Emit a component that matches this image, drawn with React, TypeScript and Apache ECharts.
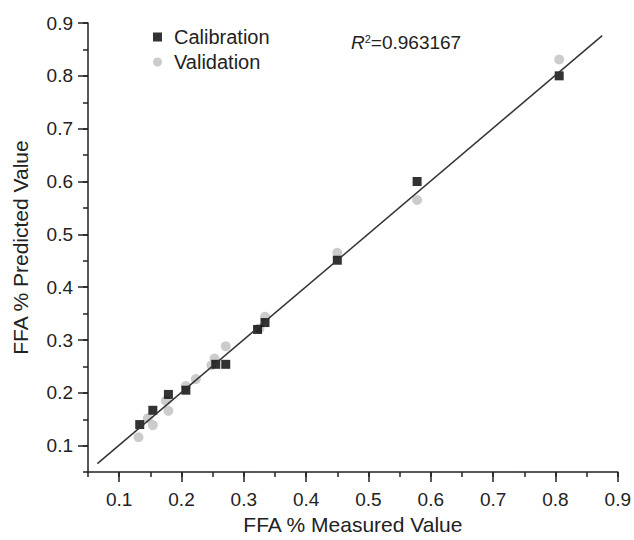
import React, { useEffect, useRef } from "react";
import * as echarts from "echarts";

const FONT = "'Liberation Sans', Arial, sans-serif";

const calibration: [number, number][] = [
  [0.133, 0.14], [0.154, 0.167], [0.179, 0.197], [0.207, 0.205], [0.255, 0.254],
  [0.271, 0.254], [0.322, 0.32], [0.334, 0.333], [0.45, 0.451], [0.578, 0.6], [0.806, 0.8],
];

const validation: [number, number][] = [
  [0.131, 0.116], [0.146, 0.152], [0.154, 0.139], [0.175, 0.185], [0.179, 0.166],
  [0.207, 0.213], [0.223, 0.226], [0.248, 0.252], [0.253, 0.265], [0.271, 0.288],
  [0.325, 0.322], [0.334, 0.344], [0.45, 0.465], [0.578, 0.565], [0.806, 0.831],
];

const fitLine: [number, number][] = [
  [0.065, 0.066],
  [0.875, 0.876],
];

const majorTicks = [0.1, 0.2, 0.3, 0.4, 0.5, 0.6, 0.7, 0.8, 0.9];
const r2Text = "0.963167";

export default function App() {
  const ref = useRef<HTMLDivElement>(null);
  useEffect(() => {
    if (!ref.current) return;
    const chart = echarts.init(ref.current, null, { renderer: "svg" });
    const axisColor = "#222";
    const majorAxis = (name: string, isX: boolean, gap: number) => ({
      type: "value",
      min: 0.05,
      max: 0.9,
      position: isX ? "bottom" : "left",
      name,
      nameLocation: "middle",
      nameGap: gap,
      nameTextStyle: { fontSize: 21, color: axisColor, fontFamily: FONT },
      axisLine: { show: true, onZero: false, lineStyle: { color: axisColor, width: 1.5 } },
      axisTick: {
        show: true,
        customValues: majorTicks,
        length: 10,
        lineStyle: { color: axisColor, width: 1.5 },
      },
      axisLabel: {
        show: true,
        customValues: majorTicks,
        formatter: (v: number) => v.toFixed(1),
        fontSize: 19,
        color: axisColor,
        fontFamily: FONT,
        margin: isX ? 18 : 15,
      },
      splitLine: { show: false },
    });
    const minorAxis = (isX: boolean) => ({
      type: "value",
      min: 0.05,
      max: 0.9,
      interval: 0.05,
      position: isX ? "bottom" : "left",
      offset: 0,
      axisLine: { show: false, onZero: false },
      axisTick: { show: true, length: 5, lineStyle: { color: axisColor, width: 1.5 } },
      axisLabel: { show: false },
      splitLine: { show: false },
    });
    chart.setOption({
      animation: false,
      backgroundColor: "#fff",
      grid: { left: 88, right: 14, top: 23, bottom: 66 },
      xAxis: [majorAxis("FFA % Measured Value", true, 34), minorAxis(true)],
      yAxis: [majorAxis("FFA % Predicted Value", false, 57), minorAxis(false)],
      legend: {
        data: ["Calibration", "Validation"],
        orient: "vertical",
        left: 148,
        top: 22,
        itemWidth: 9,
        itemHeight: 9,
        itemGap: 5,
        textStyle: { fontSize: 20, color: axisColor, fontFamily: FONT, lineHeight: 20, padding: [0, 0, 0, 7] },
      },
      graphic: [
        {
          type: "text",
          left: 351,
          top: 33,
          style: {
            text: "{i|R}{s|2}{n|=" + r2Text + "}",
            rich: {
              i: { fontStyle: "italic", fontSize: 19, fill: axisColor, fontFamily: FONT, verticalAlign: "bottom" },
              s: { fontSize: 11, fill: axisColor, fontFamily: FONT, verticalAlign: "top" },
              n: { fontSize: 19, fill: axisColor, fontFamily: FONT, verticalAlign: "bottom" },
            },
          },
        },
      ],
      series: [
        {
          name: "Validation",
          type: "scatter",
          symbol: "circle",
          symbolSize: 10,
          itemStyle: { color: "#bfbfbf" },
          data: validation,
          z: 2,
        },
        {
          name: "Calibration",
          type: "scatter",
          symbol: "rect",
          symbolSize: 9,
          itemStyle: { color: "#000" },
          data: calibration,
          z: 3,
        },
        {
          name: "fit",
          type: "line",
          data: fitLine,
          showSymbol: false,
          symbol: "none",
          lineStyle: { color: "#333", width: 1.5 },
          z: 4,
        },
      ],
    });
    return () => chart.dispose();
  }, []);
  return (
    <div
      ref={ref}
      style={{ position: "fixed", left: 0, top: 0, width: 634, height: 540 }}
    />
  );
}
